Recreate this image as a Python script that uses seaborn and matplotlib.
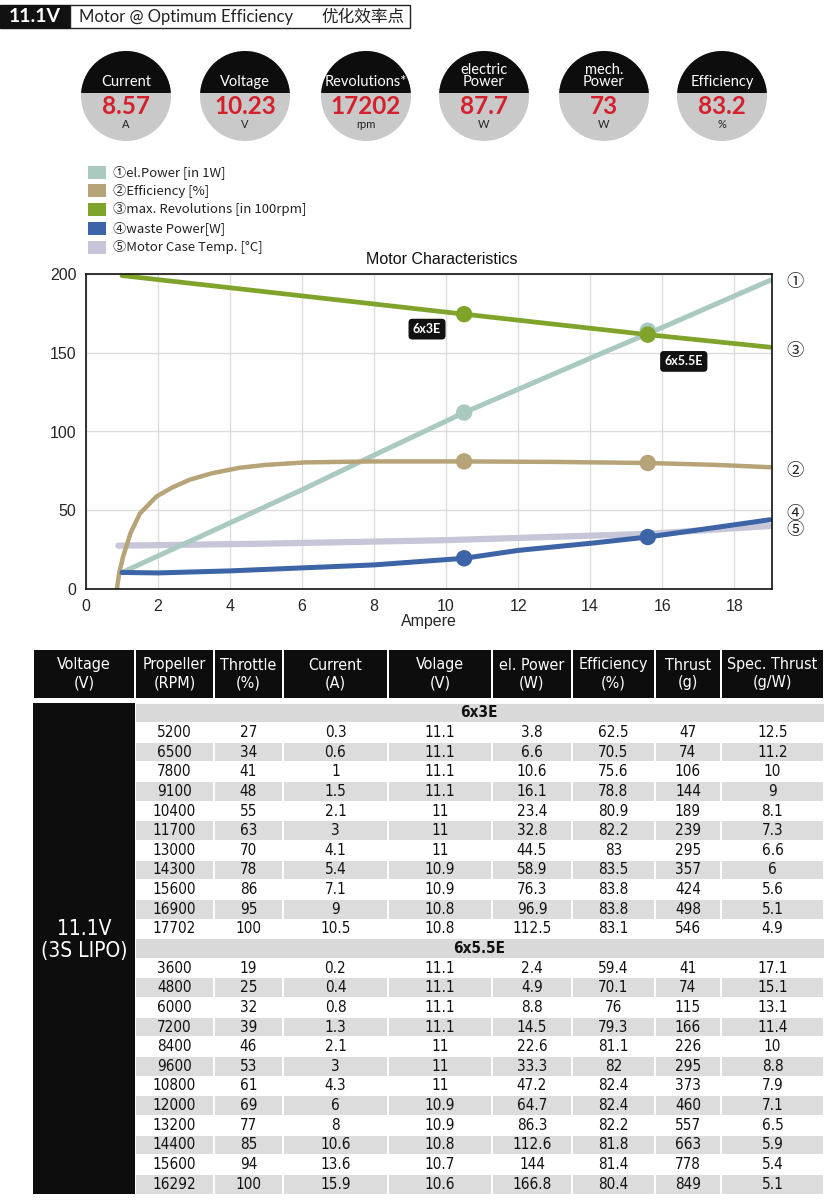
import numpy as np
import matplotlib
matplotlib.use('Agg')
import matplotlib.pyplot as plt
from matplotlib.patches import Rectangle, Circle
import seaborn as sns

# --- kennzahlen oben ---
circle_labels = ['Current', 'Voltage', 'Revolutions*', 'electric\nPower', 'mech.\nPower', 'Efficiency']
circle_values = ['8.57', '10.23', '17202', '87.7', '73', '83.2']
circle_units = ['A', 'V', 'rpm', 'W', 'W', '%']

# --- kurven (Ampere -> Wert) ---
elpow_x = [1.0, 4, 6, 8, 10.5, 14, 16, 18, 19]
elpow_y = [10.5, 42, 63, 85, 112, 146.5, 166, 186, 196]
eff_x = [0.86, 0.92, 1.03, 1.24, 1.5, 1.96, 2.4, 2.88, 3.5, 4.27, 5, 6.1, 7.95, 10.5, 13, 15.6, 17.5, 19]
eff_y = [0, 10, 20.6, 35.7, 48, 58.8, 64.5, 69.4, 73.5, 77, 78.8, 80.4, 81, 81, 80.7, 80, 78.8, 77.3]
rev_x = [1.0, 10.5, 15.6, 19]
rev_y = [199, 174.5, 161.5, 153.5]
waste_x = [1.0, 2, 4, 6, 8, 10.5, 12, 14, 15.6, 17, 19]
waste_y = [10.5, 10.2, 11.5, 13.4, 15.3, 19.5, 24.5, 29, 33, 37.5, 44]
temp_x = [0.9, 5, 10, 15.6, 19]
temp_y = [27.5, 28.8, 31, 35, 40]

# betriebspunkte der beiden propeller
op_x = [10.5, 15.6]
op_elpow = [112, 164]
op_eff = [81, 80]
op_rev = [174.5, 161.5]
op_waste = [19.5, 33]

legend_labels = ['①el.Power [in 1W]', '②Efficiency [%]', '③max. Revolutions [in 100rpm]',
                 '④waste Power[W]', '⑤Motor Case Temp. [°C]']
c_elpow, c_eff, c_rev, c_waste, c_temp = '#a9c9c1', '#b6a478', '#7fa32b', '#3c64a6', '#c6c6d8'
legend_colors = [c_elpow, c_eff, c_rev, c_waste, c_temp]

# --- tabelle ---
table_head = ['Voltage\n(V)', 'Propeller\n(RPM)', 'Throttle\n(%)', 'Current\n(A)', 'Volage\n(V)',
              'el. Power\n(W)', 'Efficiency\n(%)', 'Thrust\n(g)', 'Spec. Thrust\n(g/W)']

p1_name = '6x3E'
p1_rpm = [5200, 6500, 7800, 9100, 10400, 11700, 13000, 14300, 15600, 16900, 17702]
p1_thr = [27, 34, 41, 48, 55, 63, 70, 78, 86, 95, 100]
p1_cur = [0.3, 0.6, 1, 1.5, 2.1, 3, 4.1, 5.4, 7.1, 9, 10.5]
p1_volt = [11.1, 11.1, 11.1, 11.1, 11, 11, 11, 10.9, 10.9, 10.8, 10.8]
p1_pow = [3.8, 6.6, 10.6, 16.1, 23.4, 32.8, 44.5, 58.9, 76.3, 96.9, 112.5]
p1_eff = [62.5, 70.5, 75.6, 78.8, 80.9, 82.2, 83, 83.5, 83.8, 83.8, 83.1]
p1_thrust = [47, 74, 106, 144, 189, 239, 295, 357, 424, 498, 546]
p1_spec = [12.5, 11.2, 10, 9, 8.1, 7.3, 6.6, 6, 5.6, 5.1, 4.9]

p2_name = '6x5.5E'
p2_rpm = [3600, 4800, 6000, 7200, 8400, 9600, 10800, 12000, 13200, 14400, 15600, 16292]
p2_thr = [19, 25, 32, 39, 46, 53, 61, 69, 77, 85, 94, 100]
p2_cur = [0.2, 0.4, 0.8, 1.3, 2.1, 3, 4.3, 6, 8, 10.6, 13.6, 15.9]
p2_volt = [11.1, 11.1, 11.1, 11.1, 11, 11, 11, 10.9, 10.9, 10.8, 10.7, 10.6]
p2_pow = [2.4, 4.9, 8.8, 14.5, 22.6, 33.3, 47.2, 64.7, 86.3, 112.6, 144, 166.8]
p2_eff = [59.4, 70.1, 76, 79.3, 81.1, 82, 82.4, 82.4, 82.2, 81.8, 81.4, 80.4]
p2_thrust = [41, 74, 115, 166, 226, 295, 373, 460, 557, 663, 778, 849]
p2_spec = [17.1, 15.1, 13.1, 11.4, 10, 8.8, 7.9, 7.1, 6.5, 5.9, 5.4, 5.1]

sns.set_style('white')
plt.rcParams['font.family'] = ['Liberation Sans', 'DejaVu Sans']
cjk = ['Noto Sans CJK SC', 'DejaVu Sans']
narrow = ['Liberation Sans Narrow', 'DejaVu Sans']
sans = ['Lato', 'Noto Sans CJK SC', 'DejaVu Sans']

fig = plt.figure(figsize=(8.34, 12), dpi=100)
bg = fig.add_axes([0, 0, 1, 1])
bg.set_xlim(0, 834)
bg.set_ylim(1200, 0)
bg.axis('off')

# --- kopfzeile ---
bg.add_patch(Rectangle((0, 5), 70, 23, fc='#111111', ec='#111111'))
bg.text(35, 17, '11.1V', color='white', fontsize=14, weight='bold', ha='center', va='center', family=sans)
bg.add_patch(Rectangle((70, 5), 340, 23, fc='white', ec='#222222', lw=1))
bg.text(79, 17, 'Motor @ Optimum Efficiency', fontsize=12, ha='left', va='center',
        family=sans, color='#222222')
bg.text(405, 17, '优化效率点', fontsize=12, ha='right', va='center', family=cjk, color='#222222')

# --- runde anzeigen ---
cx = [126, 245, 366, 484, 604, 722]
for i in range(6):
    circ = Circle((cx[i], 96), 45, fc='#c9c9c9', ec='none')
    bg.add_patch(circ)
    top = Rectangle((cx[i] - 50, 40), 100, 53, fc='#0d0d0d', ec='none')
    bg.add_patch(top)
    top.set_clip_path(circ)
    bg.text(cx[i], 89, circle_labels[i], color='white', fontsize=10.5, ha='center', va='bottom',
            linespacing=0.85, family=sans)
    bg.text(cx[i], 107, circle_values[i], color='#d4202c', fontsize=17.5, weight='bold', ha='center',
            va='center', family=sans)
    bg.text(cx[i], 124, circle_units[i], color='#222222', fontsize=8, ha='center', va='center', family=sans)

# --- legende ---
leg_y = [172, 190.5, 209.5, 228, 247]
for lab, col, yy in zip(legend_labels, legend_colors, leg_y):
    bg.add_patch(Rectangle((88, yy - 6.5), 18, 13, fc=col, ec='none'))
    bg.text(113, yy, lab, fontsize=9.5, ha='left', va='center', family=cjk, color='#222222')

bg.text(442, 259, 'Motor Characteristics', fontsize=11.5, ha='center', va='center', color='#111111')

# --- diagramm ---
ax = fig.add_axes([86 / 834, 1 - 589 / 1200, 686 / 834, 315 / 1200])
ax.set_facecolor('white')
sns.lineplot(x=temp_x, y=temp_y, ax=ax, color=c_temp, linewidth=4.5)
sns.lineplot(x=elpow_x, y=elpow_y, ax=ax, color=c_elpow, linewidth=3.6)
sns.lineplot(x=eff_x, y=eff_y, ax=ax, color=c_eff, linewidth=3.2)
sns.lineplot(x=rev_x, y=rev_y, ax=ax, color=c_rev, linewidth=3.4)
sns.lineplot(x=waste_x, y=waste_y, ax=ax, color=c_waste, linewidth=3.6)
for ys, col in [(op_elpow, c_elpow), (op_eff, c_eff), (op_rev, c_rev), (op_waste, c_waste)]:
    sns.scatterplot(x=op_x, y=ys, ax=ax, color=col, s=140, edgecolor='none', zorder=5)

ax.set_xlim(0, 19.05)
ax.set_ylim(0, 200)
ax.set_xticks(range(0, 20, 2))
ax.set_yticks(range(0, 201, 50))
ax.grid(True, color='#dcdcdc', linewidth=1)
ax.set_axisbelow(True)
for sp in ax.spines.values():
    sp.set_visible(True)
    sp.set_color('#111111')
    sp.set_linewidth(1.2)
ax.tick_params(length=0, labelsize=11.5, pad=7)
ax.set_xlabel('Ampere', fontsize=11.5, labelpad=0)
ax.set_ylabel('')

box = dict(boxstyle='round,pad=0.35,rounding_size=0.3', fc='#111111', ec='none')
ax.text(9.47, 165, '6x3E', color='white', fontsize=9, weight='bold', ha='center', va='center',
        family=sans, bbox=box)
ax.text(16.6, 144.5, '6x5.5E', color='white', fontsize=9, weight='bold', ha='center', va='center',
        family=sans, bbox=box)

for sym, yy in [('①', 195), ('③', 151), ('②', 75), ('④', 47.5), ('⑤', 37.5)]:
    ax.text(19.45, yy, sym, fontsize=12.5, ha='left', va='center', family=cjk, clip_on=False, color='#222222')

# --- tabelle ---
col_edges = [33, 135, 214, 283, 388, 492, 572, 655, 721, 824]
for j, head in enumerate(table_head):
    x0, x1 = col_edges[j], col_edges[j + 1]
    bg.add_patch(Rectangle((x0 + 1, 650), x1 - x0 - 2, 48, fc='#0d0d0d', ec='none'))
    bg.text((x0 + x1) / 2, 674, head, color='white', fontsize=11.5, ha='center', va='center',
            linespacing=1.25, family=narrow, stretch='condensed')

bg.add_patch(Rectangle((33, 703), 102, 491, fc='#0d0d0d', ec='none'))
bg.text(84, 940, '11.1V\n(3S LIPO)', color='white', fontsize=15, ha='center', va='center',
        linespacing=1.15, family=narrow, stretch='condensed')

sections = [
    (p1_name, [p1_rpm, p1_thr, p1_cur, p1_volt, p1_pow, p1_eff, p1_thrust, p1_spec]),
    (p2_name, [p2_rpm, p2_thr, p2_cur, p2_volt, p2_pow, p2_eff, p2_thrust, p2_spec]),
]
row_h = (1194 - 703) / 25
r = 0
for name, cols in sections:
    y0 = 703 + r * row_h
    bg.add_patch(Rectangle((136, y0 + 0.5), 824 - 136, row_h - 1, fc='#d9d9d9', ec='none'))
    bg.text(479, y0 + row_h / 2, name, fontsize=11, weight='bold', ha='center', va='center',
            family=narrow, stretch='condensed', color='#111111')
    r += 1
    for vals in zip(*cols):
        y0 = 703 + r * row_h
        shade = '#dcdcdc' if r % 2 == 0 else 'white'
        for j, v in enumerate(vals):
            x0, x1 = col_edges[j + 1], col_edges[j + 2]
            bg.add_patch(Rectangle((x0 + 1, y0 + 0.5), x1 - x0 - 2, row_h - 1, fc=shade, ec='none'))
            bg.text((x0 + x1) / 2, y0 + row_h / 2, f'{v:g}', fontsize=11, ha='center', va='center',
                    family=narrow, stretch='condensed', color='#111111')
        r += 1

fig.savefig('out.png', dpi=100)
